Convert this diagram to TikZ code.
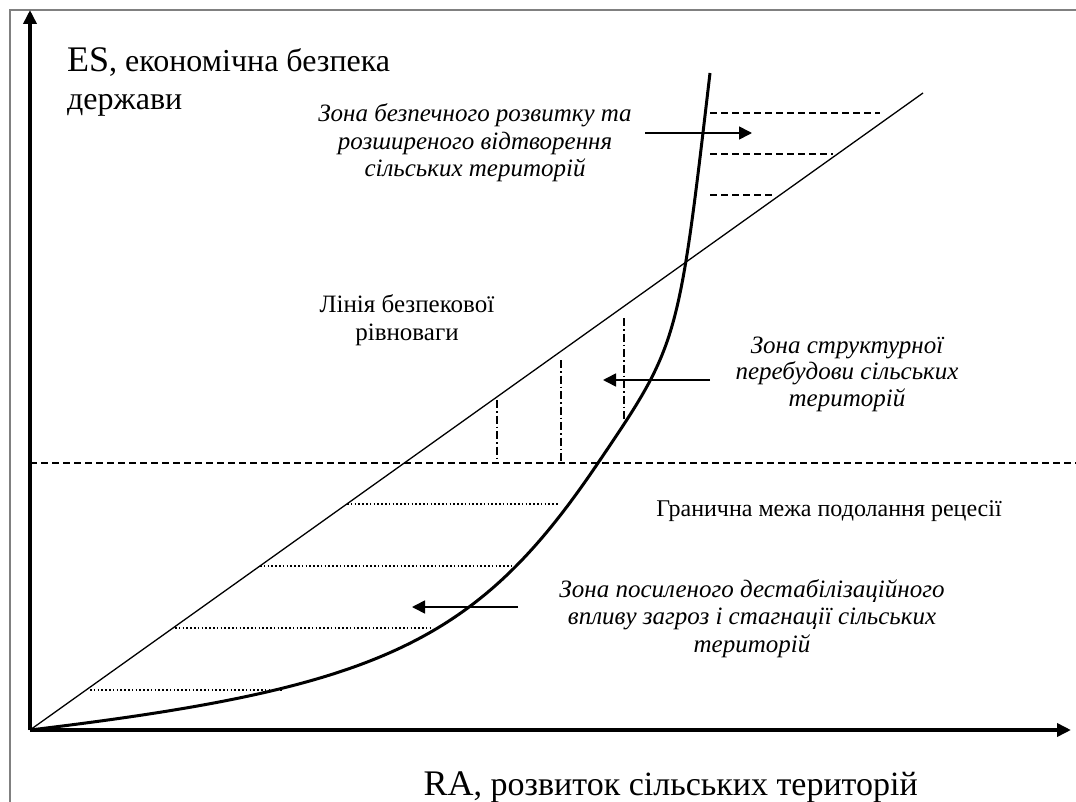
\documentclass[tikz,border=0pt]{standalone}
\usepackage{fontspec}
\setmainfont{Liberation Serif}
\usetikzlibrary{arrows.meta}
\begin{document}
\begin{tikzpicture}[x=1pt,y=-1pt,
  axis/.style={line width=4pt,-{Triangle[length=14pt,width=13pt]}},
  curveline/.style={line width=3pt,line join=round},
  diag/.style={line width=1.3pt},
  frame/.style={line width=1.3pt,draw=gray},
  zonearrow/.style={line width=1.6pt,-{Triangle[length=13pt,width=13pt]}},
  dashedline/.style={line width=1.3pt,dash pattern=on 7pt off 4pt},
  dashdot/.style={line width=1.3pt,dash pattern=on 8pt off 3pt on 1.5pt off 3pt},
  dotline/.style={line width=1.5pt,dash pattern=on 1.5pt off 2.3pt},
  zonetext/.style={font=\fontsize{25}{27.5}\selectfont\itshape,align=center,inner sep=0pt},
  plaintext/.style={font=\fontsize{25}{28}\selectfont,align=center,inner sep=0pt},
  axistext/.style={font=\fontsize{32}{38}\selectfont,align=left,inner sep=0pt}
]
\useasboundingbox (0,0) rectangle (1076,802);
\fill[white] (0,0) rectangle (1076,802);
% frame
\draw[frame] (10,802) -- (10,10) -- (1076,10);

% key coordinates
\coordinate (O) at (30,730);
\coordinate (ytip) at (30,10);
\coordinate (xtip) at (1071,730);
\coordinate (dend) at (923,93);
\coordinate (cmid) at (598,463);
\coordinate (ctop) at (710,73);

% horizontal dashed threshold line
\coordinate (thL) at (30,463);
\coordinate (thR) at (1076,463);
\draw[dashedline] (thL) -- (thR);

% top dashed lines
\coordinate (t1a) at (710,113); \coordinate (t1b) at (880,113);
\coordinate (t2a) at (710,154); \coordinate (t2b) at (833,154);
\coordinate (t3a) at (710,195); \coordinate (t3b) at (772,195);
\draw[dashedline] (t1a) -- (t1b);
\draw[dashedline] (t2a) -- (t2b);
\draw[dashedline] (t3a) -- (t3b);

% dash-dot verticals
\coordinate (v1a) at (497,400); \coordinate (v1b) at (497,463);
\coordinate (v2a) at (561,360); \coordinate (v2b) at (561,463);
\coordinate (v3a) at (624,318); \coordinate (v3b) at (624,420);
\draw[dashdot] (v1a) -- (v1b);
\draw[dashdot] (v2a) -- (v2b);
\draw[dashdot] (v3a) -- (v3b);

% dotted lines
\coordinate (d1a) at (347,504); \coordinate (d1b) at (558,504);
\coordinate (d2a) at (260,566); \coordinate (d2b) at (515,566);
\coordinate (d3a) at (175,628); \coordinate (d3b) at (430,628);
\coordinate (d4a) at (90,690);  \coordinate (d4b) at (282,690);
\draw[dotline] (d1a) -- (d1b);
\draw[dotline] (d2a) -- (d2b);
\draw[dotline] (d3a) -- (d3b);
\draw[dotline] (d4a) -- (d4b);

% diagonal line (security equilibrium)
\draw[diag] (O) -- (dend);

% thick curve
\draw[curveline] (O) .. controls (380.3,688) and (476.8,642.6) .. (cmid)
  .. controls (678.3,344.3) and (678.3,344.3) .. (ctop);

% axes
\draw[axis] (O) -- (ytip);
\draw[axis] (O) -- (xtip);

% zone arrows
\coordinate (a1s) at (645,133); \coordinate (a1e) at (752,133);
\coordinate (a2s) at (710,380); \coordinate (a2e) at (603,380);
\coordinate (a3s) at (518,607); \coordinate (a3e) at (412,607);
\draw[zonearrow] (a1s) -- (a1e);
\draw[zonearrow] (a2s) -- (a2e);
\draw[zonearrow] (a3s) -- (a3e);

% texts
\node[axistext,anchor=base west] (es) at (67,110) {{\fontsize{36}{38}\selectfont ES}, економічна безпека\\держави};
\node[axistext,anchor=base east,font=\fontsize{34}{38}\selectfont] (ra) at (918,795) {{\fontsize{36}{38}\selectfont RA}, розвиток сільських територій};
\node[plaintext,anchor=base] (line) at (407,340) {Лінія безпекової\\рівноваги};
\node[plaintext,anchor=base,font=\fontsize{24}{28}\selectfont] (border) at (829,516) {Гранична межа подолання рецесії};
\node[zonetext,anchor=base] (zsafe) at (475,177) {Зона безпечного розвитку та\\розширеного відтворення\\сільських територій};
\node[zonetext,anchor=base,font=\fontsize{25}{26.5}\selectfont\itshape] (zstruct) at (847,406) {Зона структурної\\перебудови сільських\\територій};
\node[zonetext,anchor=base] (zdestab) at (752,652) {Зона посиленого дестабілізаційного\\впливу загроз і стагнації сільських\\територій};
\end{tikzpicture}
\end{document}
